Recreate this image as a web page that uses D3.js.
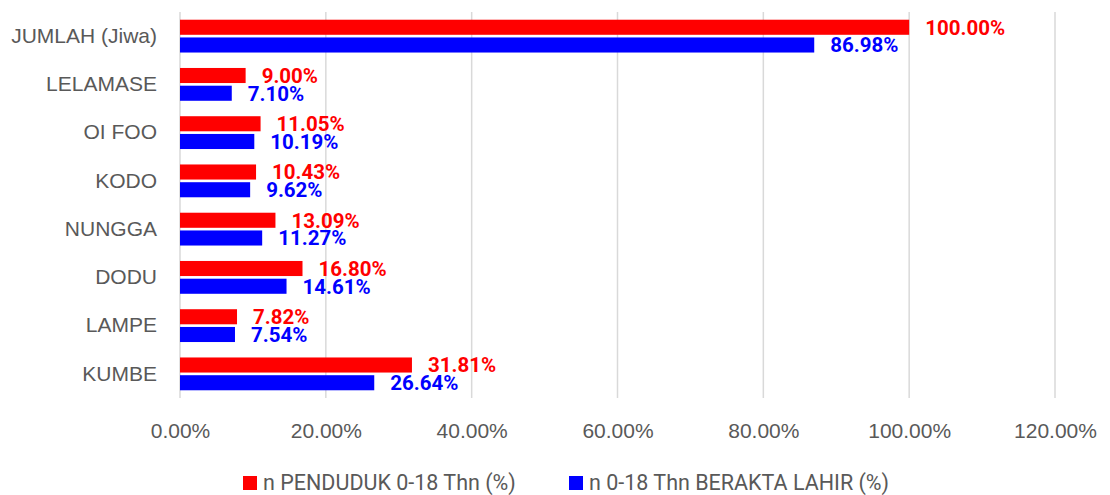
<!DOCTYPE html>
<html>
<head>
<meta charset="utf-8">
<script src="https://cdn.jsdelivr.net/npm/d3@7/dist/d3.min.js"></script>
<style>
  body { margin: 0; background: #fff; }
  svg { font-family: Roboto, "Open Sans", sans-serif; }
</style>
</head>
<body>
<div id="chart"></div>
<script>
// data
const categories = ["JUMLAH (Jiwa)", "LELAMASE", "OI FOO", "KODO", "NUNGGA", "DODU", "LAMPE", "KUMBE"];
const pendudukPct = [100.00, 9.00, 11.05, 10.43, 13.09, 16.80, 7.82, 31.81];
const aktaPct = [86.98, 7.10, 10.19, 9.62, 11.27, 14.61, 7.54, 26.64];
const seriesNames = ["n PENDUDUK 0-18 Thn (%)", "n 0-18 Thn BERAKTA LAHIR (%)"];
const seriesColors = ["#ff0000", "#0000ff"];
const xTicks = [0, 20, 40, 60, 80, 100, 120];

const width = 1110;
const height = 495;
const margin = { top: 12, right: 55, bottom: 97, left: 180 };

const svg = d3.select("#chart")
    .append("svg")
    .attr("width", width)
    .attr("height", height);

// scales
const x = d3.scaleLinear()
    .domain([0, 120])
    .range([margin.left, width - margin.right]);

const y = d3.scaleBand()
    .domain(categories)
    .range([margin.top, height - margin.bottom])
    .paddingInner(0.32)
    .paddingOuter(0.16);

const ySub = d3.scaleBand()
    .domain([0, 1])
    .range([0, y.bandwidth()])
    .paddingInner(0.15);

// gridlines
svg.append("g")
    .selectAll("line")
    .data(xTicks)
    .enter()
    .append("line")
    .attr("x1", d => x(d))
    .attr("x2", d => x(d))
    .attr("y1", margin.top)
    .attr("y2", height - margin.bottom)
    .attr("stroke", "#d9d9d9")
    .attr("stroke-width", 1.5);

// x axis labels
const xAxis = svg.append("g")
    .attr("transform", `translate(0,${height - margin.bottom})`)
    .call(d3.axisBottom(x).tickValues(xTicks).tickSize(0).tickPadding(25)
        .tickFormat(d => d.toFixed(2) + "%"));
xAxis.select(".domain").remove();
xAxis.selectAll("text")
    .attr("fill", "#595959")
    .style("font-size", "21px");

// category labels
const yAxis = svg.append("g")
    .attr("transform", `translate(${margin.left},0)`)
    .call(d3.axisLeft(y).tickSize(0).tickPadding(23));
yAxis.select(".domain").remove();
yAxis.selectAll("text")
    .attr("fill", "#595959")
    .style("font-size", "21px");

// bars
const rows = categories.map((c, i) => ({ cat: c, vals: [pendudukPct[i], aktaPct[i]] }));

const groups = svg.selectAll(".grp")
    .data(rows)
    .enter()
    .append("g")
    .attr("class", "grp")
    .attr("transform", d => `translate(0,${y(d.cat)})`);

groups.selectAll("rect")
    .data(d => d.vals.map((v, s) => ({ v, s })))
    .enter()
    .append("rect")
    .attr("x", x(0))
    .attr("y", d => ySub(d.s))
    .attr("width", d => x(d.v) - x(0))
    .attr("height", ySub.bandwidth())
    .attr("fill", d => seriesColors[d.s]);

groups.selectAll("text")
    .data(d => d.vals.map((v, s) => ({ v, s })))
    .enter()
    .append("text")
    .attr("x", d => x(d.v) + 16)
    .attr("y", d => ySub(d.s) + ySub.bandwidth() / 2)
    .attr("dy", "0.36em")
    .attr("fill", d => seriesColors[d.s])
    .style("font-size", "20.5px")
    .style("font-weight", "bold")
    .text(d => d.v.toFixed(2) + "%");

// legend
const legendX = [243, 569];
const legend = svg.selectAll(".legend-item")
    .data(seriesNames)
    .enter()
    .append("g")
    .attr("class", "legend-item")
    .attr("transform", (d, i) => `translate(${legendX[i]},476)`);

legend.append("rect")
    .attr("width", 14)
    .attr("height", 14)
    .attr("fill", (d, i) => seriesColors[i]);

legend.append("text")
    .attr("x", 20)
    .attr("y", 7)
    .attr("dy", "0.34em")
    .attr("fill", "#595959")
    .style("font-size", "21.5px")
    .text(d => d);
</script>
</body>
</html>
